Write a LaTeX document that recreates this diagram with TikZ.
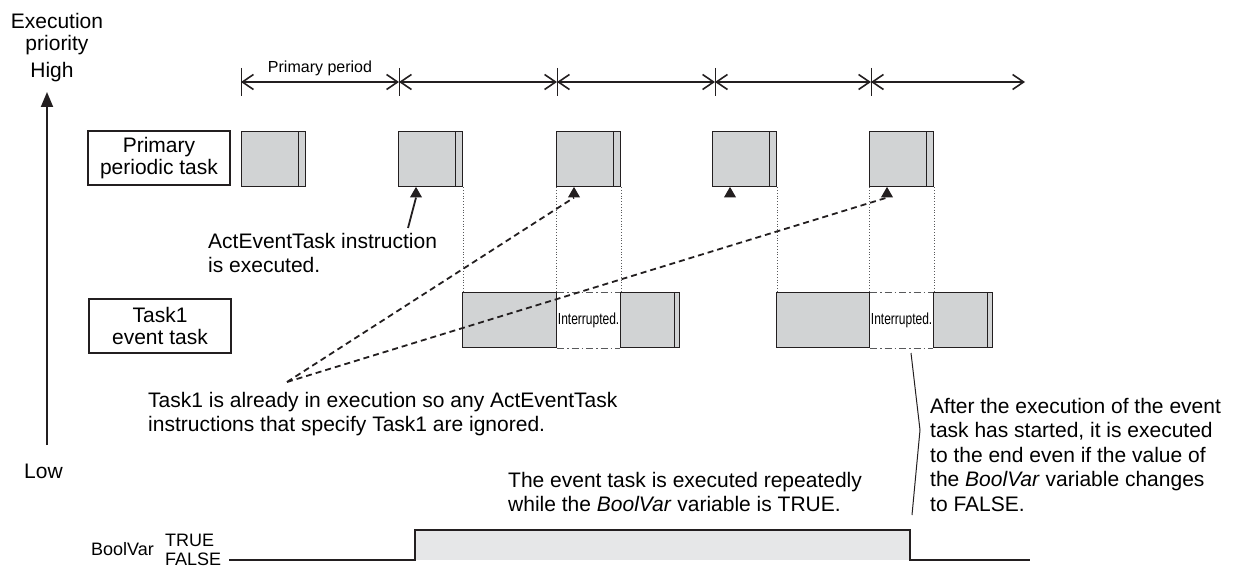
\documentclass[tikz,border=0pt]{standalone}
\usepackage{fontspec}
\setmainfont{Liberation Sans}
\usepackage{graphicx}
\usetikzlibrary{arrows.meta, positioning, calc, shapes.geometric}
\definecolor{ink}{HTML}{231F20}
\definecolor{blkgray}{HTML}{D1D3D4}
\definecolor{boolgray}{HTML}{E6E7E8}
\definecolor{guidegray}{HTML}{58595B}
\newcommand{\txt}{\fontsize{21}{24.5}\selectfont}
\newcommand{\boxtxt}{\fontsize{21}{22.5}\selectfont}
\newcommand{\smtxt}{\fontsize{16}{18}\selectfont}
\newcommand{\sigtxt}{\fontsize{18}{20}\selectfont}
\newcommand{\inttxt}{\fontsize{16}{18}\selectfont}
\tikzset{
  lblbox/.style={draw=ink, line width=1.1pt, fill=white, minimum width=142pt,
                 minimum height=54pt, align=center, inner sep=0pt, font=\boxtxt},
  ptask/.style={draw=ink, fill=blkgray, line width=1.2pt, minimum width=64pt,
                minimum height=55pt, inner sep=0pt, anchor=north west,
                path picture={\draw[ink, line width=1.2pt]
                  ([xshift=-7pt]path picture bounding box.north east) --
                  ([xshift=-7pt]path picture bounding box.south east);}},
  etask/.style={draw=ink, fill=blkgray, line width=1.2pt, minimum height=55pt,
                inner sep=0pt, anchor=north west},
  etaskend/.style={etask, minimum width=59pt,
                path picture={\draw[ink, line width=1.2pt]
                  ([xshift=-5pt]path picture bounding box.north east) --
                  ([xshift=-5pt]path picture bounding box.south east);}},
  trimark/.style={regular polygon, regular polygon sides=3, fill=ink,
                  inner sep=0pt, minimum size=14pt, anchor=corner 1},
  note/.style={align=left, inner sep=0pt, anchor=north west, font=\txt},
  period/.style={{Straight Barb[length=11pt,width=15pt]}-{Straight Barb[length=11pt,width=15pt]},
                 line width=1.6pt, draw=ink},
  tick/.style={line width=1pt, draw=ink},
  axis/.style={-{Triangle[length=15pt,width=12pt]}, line width=1.8pt, draw=ink},
  guide/.style={dotted, line width=0.8pt, draw=guidegray},
  intline/.style={dash pattern=on 7pt off 3pt on 1.5pt off 3pt, line width=1pt, draw=guidegray},
  hint/.style={dash pattern=on 6pt off 4pt, line width=1.8pt, draw=ink},
  pointer/.style={line width=1.8pt, draw=ink},
  signal/.style={line width=1.6pt, draw=ink}
}

\begin{document}
\begin{tikzpicture}[x=1pt, y=-1pt, font=\txt]
    \useasboundingbox (0,0) rectangle (1242,567);

    % priority axis
    \node[align=center, inner sep=0pt, anchor=north, font=\boxtxt] (prio) at (57,13) {Execution\\priority};
    \node[inner sep=0pt, anchor=base] (high) at (52,78) {High};
    \node[inner sep=0pt, anchor=base west] (low) at (24,478) {Low};
    \coordinate (axbot) at (47,445);
    \coordinate (axtop) at (47,92);
    \draw[axis] (axbot) -- (axtop);

    % primary period
    \coordinate (t1) at (241,82);
    \coordinate (t2) at (399,82);
    \coordinate (t3) at (557,82);
    \coordinate (t4) at (715,82);
    \coordinate (t5) at (871,82);
    \coordinate (tend) at (1025,82);
    \foreach \t in {t1,t2,t3,t4,t5}
      \draw[tick] ([yshift=14pt]\t) -- ([yshift=-14pt]\t);
    \draw[period] (t1) -- node[above=2pt, font=\smtxt]{Primary period} (t2);
    \draw[period] (t2) -- (t3);
    \draw[period] (t3) -- (t4);
    \draw[period] (t4) -- (t5);
    \draw[period] (t5) -- (tend);

    % primary periodic task
    \node[lblbox] (plbl) at (159,158) {Primary\\periodic task};
    \node[ptask] (p1) at (241,131) {};
    \node[ptask] (p2) at (398,131) {};
    \node[ptask] (p3) at (556,131) {};
    \node[ptask] (p4) at (712,131) {};
    \node[ptask] (p5) at (869,131) {};

    \node[trimark] (m2) at (416,186.5) {};
    \node[trimark] (m3) at (574,186.5) {};
    \node[trimark] (m4) at (730,186.5) {};
    \node[trimark] (m5) at (887,186.5) {};

    \node[note] (act) at (208,233) {ActEventTask instruction\\is executed.};
    \coordinate (acttail) at (408,228);
    \draw[pointer] (acttail) -- (m2.south);

    % Task1 event task
    \node[lblbox] (elbl) at (160,326) {Task1\\event task};
    \node[etask, minimum width=94pt] (e1) at (462,292) {};
    \node[etaskend] (e1b) at (620,292) {};
    \node[etask, minimum width=93pt] (e2) at (776,292) {};
    \node[etaskend] (e2b) at (933,292) {};

    \draw[intline] (e1.north east) -- (e1b.north west);
    \draw[intline] (e1.south east) -- (e1b.south west);
    \draw[intline] (e2.north east) -- (e2b.north west);
    \draw[intline] (e2.south east) -- (e2b.south west);
    \node[inner sep=0pt, font=\inttxt] (i1) at ($(e1.east)!0.5!(e1b.west)$)
      {\scalebox{0.75}[1]{Interrupted.}};
    \node[inner sep=0pt, font=\inttxt] (i2) at ($(e2.east)!0.5!(e2b.west)$)
      {\scalebox{0.75}[1]{Interrupted.}};

    \draw[guide] (p2.south east) -- (p2.south east |- e1.north);
    \draw[guide] (p3.south west) -- (p3.south west |- e1.north);
    \draw[guide] (p3.south east) -- (p3.south east |- e1.north);
    \draw[guide] (p4.south east) -- (p4.south east |- e2.north);
    \draw[guide] (p5.south west) -- (p5.south west |- e2.north);
    \draw[guide] (p5.south east) -- (p5.south east |- e2.north);

    % ignored instructions
    \coordinate (conv) at (287,382);
    \draw[hint] (conv) -- (m3.south);
    \draw[hint] (conv) -- (m5.south);
    \node[note] (ign) at (148,392)
      {Task1 is already in execution so any ActEventTask\\instructions that specify Task1 are ignored.};

    % run to end
    \coordinate (br1) at (911,353);
    \coordinate (br2) at (920,430);
    \coordinate (br3) at (912,515);
    \draw[line width=1pt, draw=ink] (br1) -- (br2) -- (br3);
    \node[note] (end) at (930,398)
      {After the execution of the event\\task has started, it is executed\\to the end even if the value of\\the \textit{BoolVar} variable changes\\to FALSE.};
    \node[note] (rep) at (508,472)
      {The event task is executed repeatedly\\while the \textit{BoolVar} variable is TRUE.};

    % BoolVar signal
    \node[inner sep=0pt, anchor=base west, font=\sigtxt] (bv) at (91,555) {BoolVar};
    \node[inner sep=0pt, anchor=base west, font=\sigtxt] (bt) at (165,546) {TRUE};
    \node[inner sep=0pt, anchor=base west, font=\sigtxt] (bf) at (165,565) {FALSE};
    \coordinate (b0) at (229,560);
    \coordinate (b1) at (415,560);
    \coordinate (b2) at (415,530);
    \coordinate (b3) at (910,530);
    \coordinate (b4) at (910,560);
    \coordinate (b5) at (1030,560);
    \fill[boolgray] (b1) rectangle (b3);
    \draw[signal] (b0) -- (b1) -- (b2) -- (b3) -- (b4) -- (b5);
\end{tikzpicture}
\end{document}
